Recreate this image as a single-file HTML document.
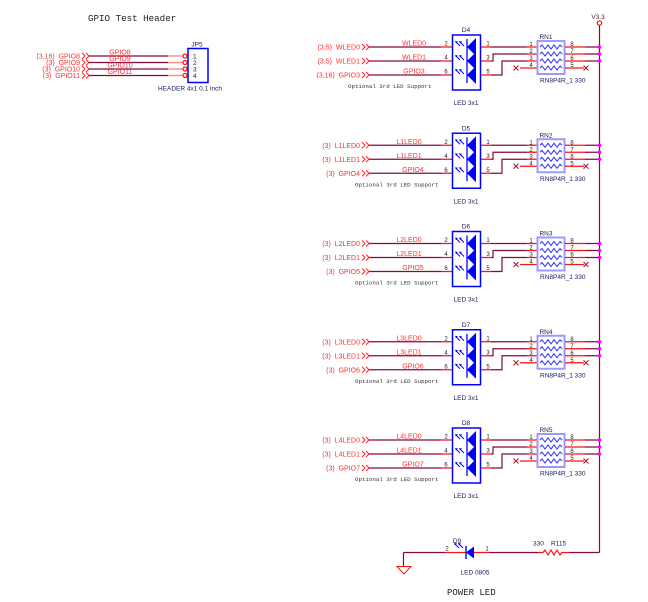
<!DOCTYPE html>
<html><head><meta charset="utf-8"><style>
html,body{margin:0;padding:0;background:#fff;}
svg{display:block;}
text{font-family:"Liberation Sans",Arial,sans-serif;}
.lbl{font-size:7px;fill:#ff3030;white-space:pre;}
.net{font-size:7px;fill:#ff3030;text-anchor:middle;}
.pin{font-size:6px;fill:#202040;text-anchor:middle;}
.cmp{font-size:6.5px;fill:#1a1a60;}
.mono{font-family:"Liberation Mono","DejaVu Sans Mono",monospace;}
.w{stroke:#820a3c;stroke-width:1.2;fill:none;}
.r{stroke:#ff1010;stroke-width:1.2;fill:none;}
</style></head><body>
<svg width="648" height="602" viewBox="0 0 648 602" xmlns="http://www.w3.org/2000/svg">
<defs>
<g id="blk">
  <!-- left wires -->
  <path class="w" d="M369 0H441M369 14H441M369 28H441"/>
  <path class="r" d="M441 0H452M441 14H452M441 28H452"/>
  <path d="M362 -3L365 0L362 3M366 -3L369 0L366 3M362 11L365 14L362 17M366 11L369 14L366 17M362 25L365 28L362 31M366 25L369 28L366 31" stroke="#ff2020" stroke-width="1" fill="none"/>
  <!-- LED box -->
  <rect x="452.5" y="-12" width="28" height="55" fill="none" stroke="#0000ff" stroke-width="1.5"/>
  <path d="M467 0L476 -9L476 9Z M467 14L476 5L476 23Z M467 28L476 19L476 37Z" fill="#0000ff"/>
  <path d="M467 -8V8M467 6V22M467 20V36" stroke="#0000ff" stroke-width="1.3"/>
  <path d="M460 -1L456 -5M464 -1L460 -5M460 13L456 9M464 13L460 9M460 27L456 23M464 27L460 23" stroke="#0000ff" stroke-width="0.9"/>
  <path d="M455 -6L458 -5.5L456 -3.5ZM459 -6L462 -5.5L460 -3.5ZM455 8L458 8.5L456 10.5ZM459 8L462 8.5L460 10.5ZM455 22L458 22.5L456 24.5ZM459 22L462 22.5L460 24.5Z" fill="#0000ff"/>
  <!-- right wires -->
  <path class="r" d="M481 0H491M481 14H491M481 28H491"/>
  <path class="w" d="M491 0H527M491 14H493V7H527M491 28H502V14H527"/>
  <path class="r" d="M527 0H537M527 7H537M527 14H537M520 21H537"/>
  <path d="M513.5 18.5L518.5 23.5M518.5 18.5L513.5 23.5M583.5 18.5L588.5 23.5M588.5 18.5L583.5 23.5" stroke="#b01020" stroke-width="1"/>
  <!-- RN box -->
  <rect x="537.5" y="-6" width="27" height="33" fill="none" stroke="#9a9aff" stroke-width="2"/>
  <path d="M540 0l2-2l3 4l3-4l3 4l3-4l3 4l3-4l2 2M540 7l2-2l3 4l3-4l3 4l3-4l3 4l3-4l2 2M540 14l2-2l3 4l3-4l3 4l3-4l3 4l3-4l2 2M540 21l2-2l3 4l3-4l3 4l3-4l3 4l3-4l2 2" stroke="#3030ff" stroke-width="1" fill="none"/>
  <path class="r" d="M565 0H585M565 7H585M565 14H585M565 21H584"/>
  <path class="w" d="M585 0H599.5M585 7H599.5M585 14H599.5"/>
  <circle cx="599.5" cy="0" r="1.8" fill="#ff00ff"/>
  <circle cx="599.5" cy="7" r="1.8" fill="#ff00ff"/>
  <circle cx="599.5" cy="14" r="1.8" fill="#ff00ff"/>
</g>
</defs>

<!-- Header -->
<text x="88" y="21" class="mono" style="font-size:9.2px;fill:#222;">GPIO Test Header</text>
<text x="80" y="58.5" class="lbl" text-anchor="end">(3,16)  GPIO8</text>
<text x="80" y="65" class="lbl" text-anchor="end">(3)  GPIO9</text>
<text x="80" y="71.5" class="lbl" text-anchor="end">(3)  GPIO10</text>
<text x="80" y="78" class="lbl" text-anchor="end">(3)  GPIO11</text>
<path d="M82 53L85 56L82 59M86 53L89 56L86 59M82 59.5L85 62.5L82 65.5M86 59.5L89 62.5L86 65.5M82 66L85 69L82 72M86 66L89 69L86 72M82 72.5L85 75.5L82 78.5M86 72.5L89 75.5L86 78.5" stroke="#ff2020" stroke-width="1" fill="none"/>
<path class="w" d="M89 56H168M89 62.5H168M89 69H168M89 75.5H168"/>
<path d="M168 56H183M168 62.5H183M168 69H183M168 75.5H183" stroke="#ff9090" stroke-width="1.6"/>
<circle cx="185" cy="56" r="2" fill="#fff" stroke="#ff1010" stroke-width="1.2"/>
<circle cx="185" cy="62.5" r="2" fill="#fff" stroke="#ff1010" stroke-width="1.2"/>
<circle cx="185" cy="69" r="2" fill="#fff" stroke="#ff1010" stroke-width="1.2"/>
<circle cx="185" cy="75.5" r="2" fill="#fff" stroke="#ff1010" stroke-width="1.2"/>
<text x="120" y="54.5" class="net">GPIO8</text>
<text x="120" y="61" class="net">GPIO9</text>
<text x="120" y="67.5" class="net">GPIO10</text>
<text x="120" y="74" class="net">GPIO11</text>
<rect x="188" y="48.5" width="20" height="34" fill="none" stroke="#0000ff" stroke-width="1.5"/>
<text x="193" y="58.5" class="cmp" style="fill:#222">1</text>
<text x="193" y="65" class="cmp" style="fill:#222">2</text>
<text x="193" y="71.5" class="cmp" style="fill:#222">3</text>
<text x="193" y="78" class="cmp" style="fill:#222">4</text>
<text x="197" y="46.5" class="cmp" text-anchor="middle">JP5</text>
<text x="158" y="90.5" class="cmp">HEADER 4x1 0.1 inch</text>

<!-- V3.3 bus -->
<text x="598" y="19" class="cmp" text-anchor="middle" style="fill:#502030">V3.3</text>
<circle cx="599.5" cy="23" r="2.2" fill="#fff" stroke="#ff1010" stroke-width="1.2"/>
<path class="w" d="M599.5 25.5V552.5"/>

<!-- Block D4 -->
<g transform="translate(0,47)">
<use href="#blk"/>
<text x="360" y="2.5" class="lbl" text-anchor="end">(3,5)  WLED0</text>
<text x="360" y="16.5" class="lbl" text-anchor="end">(3,5)  WLED1</text>
<text x="360" y="30.5" class="lbl" text-anchor="end">(3,16)  GPIO3</text>
<text x="414" y="-1.5" class="net">WLED0</text>
<text x="414" y="12.5" class="net">WLED1</text>
<text x="414" y="26.5" class="net">GPIO3</text>
<text x="446" y="-1.5" class="pin">2</text><text x="446" y="12.5" class="pin">4</text><text x="446" y="26.5" class="pin">6</text>
<text x="488" y="-1.5" class="pin">1</text><text x="488" y="12.5" class="pin">3</text><text x="488" y="26.5" class="pin">5</text>
<text x="531" y="-1" class="pin">1</text><text x="531" y="6" class="pin">2</text><text x="531" y="13" class="pin">3</text><text x="531" y="20" class="pin">4</text>
<text x="572" y="-1" class="pin">8</text><text x="572" y="6" class="pin">7</text><text x="572" y="13" class="pin">6</text><text x="572" y="20" class="pin">5</text>
<text x="466" y="-15" class="cmp" text-anchor="middle">D4</text>
<text x="546" y="-8" class="cmp" text-anchor="middle">RN1</text>
<text x="540" y="35.5" class="cmp">RN8P4R_1 330</text>
<text x="466" y="58" class="cmp" text-anchor="middle">LED 3x1</text>
<text x="348" y="41" class="mono" style="font-size:5.8px;fill:#333">Optional 3rd LED Support</text>
</g>

<!-- Block D5 -->
<g transform="translate(0,145.25)">
<use href="#blk"/>
<text x="360" y="2.5" class="lbl" text-anchor="end">(3)  L1LED0</text>
<text x="360" y="16.5" class="lbl" text-anchor="end">(3)  L1LED1</text>
<text x="360" y="30.5" class="lbl" text-anchor="end">(3)  GPIO4</text>
<text x="409" y="-1.5" class="net">L1LED0</text>
<text x="409" y="12.5" class="net">L1LED1</text>
<text x="413" y="26.5" class="net">GPIO4</text>
<text x="446" y="-1.5" class="pin">2</text><text x="446" y="12.5" class="pin">4</text><text x="446" y="26.5" class="pin">6</text>
<text x="488" y="-1.5" class="pin">1</text><text x="488" y="12.5" class="pin">3</text><text x="488" y="26.5" class="pin">5</text>
<text x="531" y="-1" class="pin">1</text><text x="531" y="6" class="pin">2</text><text x="531" y="13" class="pin">3</text><text x="531" y="20" class="pin">4</text>
<text x="572" y="-1" class="pin">8</text><text x="572" y="6" class="pin">7</text><text x="572" y="13" class="pin">6</text><text x="572" y="20" class="pin">5</text>
<text x="466" y="-15" class="cmp" text-anchor="middle">D5</text>
<text x="546" y="-8" class="cmp" text-anchor="middle">RN2</text>
<text x="540" y="35.5" class="cmp">RN8P4R_1 330</text>
<text x="466" y="58" class="cmp" text-anchor="middle">LED 3x1</text>
<text x="355" y="41" class="mono" style="font-size:5.8px;fill:#333">Optional 3rd LED Support</text>
</g>

<!-- Block D6 -->
<g transform="translate(0,243.5)">
<use href="#blk"/>
<text x="360" y="2.5" class="lbl" text-anchor="end">(3)  L2LED0</text>
<text x="360" y="16.5" class="lbl" text-anchor="end">(3)  L2LED1</text>
<text x="360" y="30.5" class="lbl" text-anchor="end">(3)  GPIO5</text>
<text x="409" y="-1.5" class="net">L2LED0</text>
<text x="409" y="12.5" class="net">L2LED1</text>
<text x="413" y="26.5" class="net">GPIO5</text>
<text x="446" y="-1.5" class="pin">2</text><text x="446" y="12.5" class="pin">4</text><text x="446" y="26.5" class="pin">6</text>
<text x="488" y="-1.5" class="pin">1</text><text x="488" y="12.5" class="pin">3</text><text x="488" y="26.5" class="pin">5</text>
<text x="531" y="-1" class="pin">1</text><text x="531" y="6" class="pin">2</text><text x="531" y="13" class="pin">3</text><text x="531" y="20" class="pin">4</text>
<text x="572" y="-1" class="pin">8</text><text x="572" y="6" class="pin">7</text><text x="572" y="13" class="pin">6</text><text x="572" y="20" class="pin">5</text>
<text x="466" y="-15" class="cmp" text-anchor="middle">D6</text>
<text x="546" y="-8" class="cmp" text-anchor="middle">RN3</text>
<text x="540" y="35.5" class="cmp">RN8P4R_1 330</text>
<text x="466" y="58" class="cmp" text-anchor="middle">LED 3x1</text>
<text x="355" y="41" class="mono" style="font-size:5.8px;fill:#333">Optional 3rd LED Support</text>
</g>

<!-- Block D7 -->
<g transform="translate(0,341.75)">
<use href="#blk"/>
<text x="360" y="2.5" class="lbl" text-anchor="end">(3)  L3LED0</text>
<text x="360" y="16.5" class="lbl" text-anchor="end">(3)  L3LED1</text>
<text x="360" y="30.5" class="lbl" text-anchor="end">(3)  GPIO6</text>
<text x="409" y="-1.5" class="net">L3LED0</text>
<text x="409" y="12.5" class="net">L3LED1</text>
<text x="413" y="26.5" class="net">GPIO6</text>
<text x="446" y="-1.5" class="pin">2</text><text x="446" y="12.5" class="pin">4</text><text x="446" y="26.5" class="pin">6</text>
<text x="488" y="-1.5" class="pin">1</text><text x="488" y="12.5" class="pin">3</text><text x="488" y="26.5" class="pin">5</text>
<text x="531" y="-1" class="pin">1</text><text x="531" y="6" class="pin">2</text><text x="531" y="13" class="pin">3</text><text x="531" y="20" class="pin">4</text>
<text x="572" y="-1" class="pin">8</text><text x="572" y="6" class="pin">7</text><text x="572" y="13" class="pin">6</text><text x="572" y="20" class="pin">5</text>
<text x="466" y="-15" class="cmp" text-anchor="middle">D7</text>
<text x="546" y="-8" class="cmp" text-anchor="middle">RN4</text>
<text x="540" y="35.5" class="cmp">RN8P4R_1 330</text>
<text x="466" y="58" class="cmp" text-anchor="middle">LED 3x1</text>
<text x="355" y="41" class="mono" style="font-size:5.8px;fill:#333">Optional 3rd LED Support</text>
</g>

<!-- Block D8 -->
<g transform="translate(0,440)">
<use href="#blk"/>
<text x="360" y="2.5" class="lbl" text-anchor="end">(3)  L4LED0</text>
<text x="360" y="16.5" class="lbl" text-anchor="end">(3)  L4LED1</text>
<text x="360" y="30.5" class="lbl" text-anchor="end">(3)  GPIO7</text>
<text x="409" y="-1.5" class="net">L4LED0</text>
<text x="409" y="12.5" class="net">L4LED1</text>
<text x="413" y="26.5" class="net">GPIO7</text>
<text x="446" y="-1.5" class="pin">2</text><text x="446" y="12.5" class="pin">4</text><text x="446" y="26.5" class="pin">6</text>
<text x="488" y="-1.5" class="pin">1</text><text x="488" y="12.5" class="pin">3</text><text x="488" y="26.5" class="pin">5</text>
<text x="531" y="-1" class="pin">1</text><text x="531" y="6" class="pin">2</text><text x="531" y="13" class="pin">3</text><text x="531" y="20" class="pin">4</text>
<text x="572" y="-1" class="pin">8</text><text x="572" y="6" class="pin">7</text><text x="572" y="13" class="pin">6</text><text x="572" y="20" class="pin">5</text>
<text x="466" y="-15" class="cmp" text-anchor="middle">D8</text>
<text x="546" y="-8" class="cmp" text-anchor="middle">RN5</text>
<text x="540" y="35.5" class="cmp">RN8P4R_1 330</text>
<text x="466" y="58" class="cmp" text-anchor="middle">LED 3x1</text>
<text x="355" y="41" class="mono" style="font-size:5.8px;fill:#333">Optional 3rd LED Support</text>
</g>

<!-- Power LED -->
<path class="w" d="M403.5 552.5H445M403.5 552.5V566"/>
<path d="M397 566.5H411L404 574Z" fill="none" stroke="#ff1010" stroke-width="1"/>
<path class="r" d="M445 552.5H466M474 552.5H490"/>
<path d="M466 552.5L474 546.5L474 558.5Z" fill="#0000ff"/>
<path d="M466 546V559" stroke="#0000ff" stroke-width="1.4"/>
<path d="M459 548L455 544M463 548L459 544" stroke="#0000ff" stroke-width="0.9"/>
<path d="M454 543L457 543.5L455 545.5ZM458 543L461 543.5L459 545.5Z" fill="#0000ff"/>
<path class="w" d="M490 552.5H538"/>
<path class="r" d="M538 552.5H543l2-2.5l3 5l3-5l3 5l3-5l3 5l2-2.5H570"/>
<path class="w" d="M570 552.5H599.5"/>
<text x="457" y="543" class="cmp" text-anchor="middle">D9</text>
<text x="447" y="550.5" class="pin">2</text>
<text x="487" y="550.5" class="pin">1</text>
<text x="475" y="574.5" class="cmp" text-anchor="middle">LED 0805</text>
<text x="533" y="545.5" class="cmp">330</text>
<text x="551" y="545.5" class="cmp">R115</text>
<text x="447" y="595" class="mono" style="font-size:9px;fill:#222">POWER LED</text>
</svg>
</body></html>
